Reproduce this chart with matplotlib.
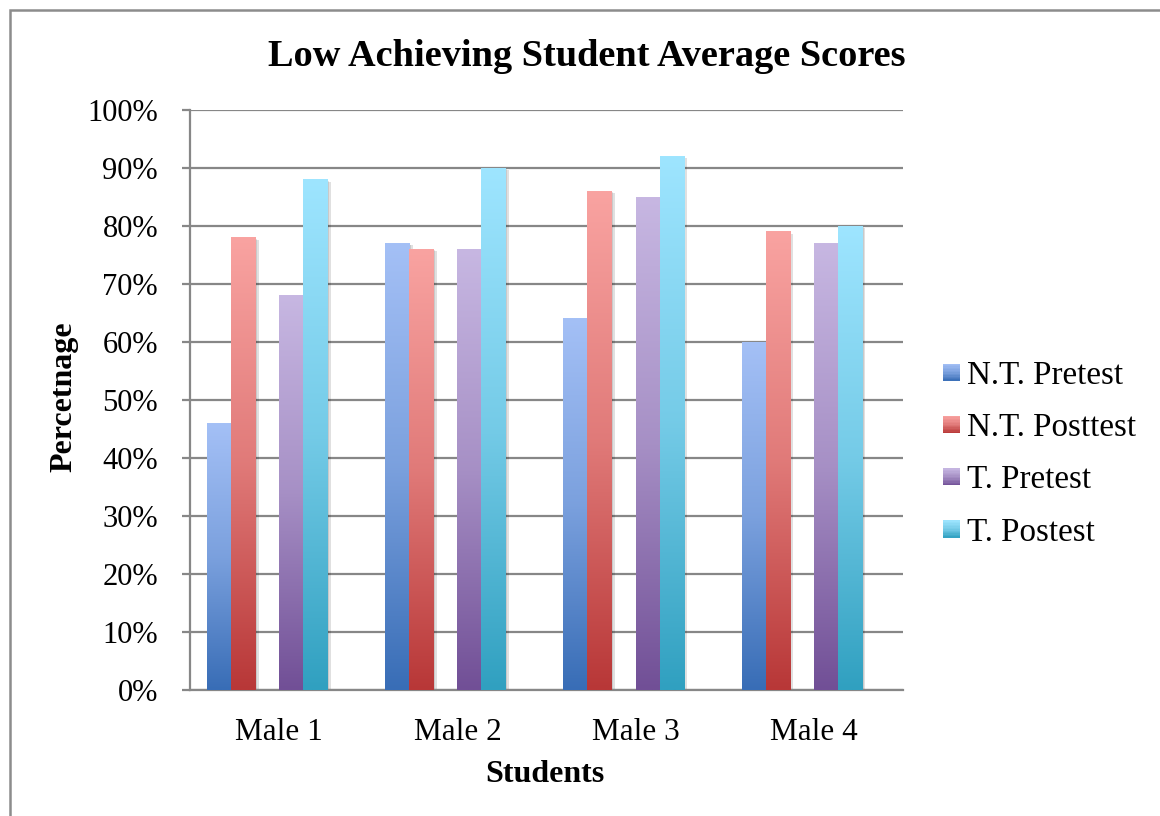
import numpy as np
import matplotlib
matplotlib.use("Agg")
import matplotlib.pyplot as plt
import matplotlib.patches as mpatches
import matplotlib.patheffects as pe
from matplotlib.colors import LinearSegmentedColormap, to_rgb
from matplotlib.legend_handler import HandlerBase

plt.rcParams['font.family'] = ['Liberation Serif', 'DejaVu Serif']

# data (percent)
students = ["Male 1", "Male 2", "Male 3", "Male 4"]
series_names = ["N.T. Pretest", "N.T. Posttest", "T. Pretest", "T. Postest"]
nt_pre = [46, 77, 64, 60]
nt_post = [78, 76, 86, 79]
t_pre = [68, 76, 85, 77]
t_post = [88, 90, 92, 80]
yticks = [0, 10, 20, 30, 40, 50, 60, 70, 80, 90, 100]

# gradient colours (bottom, top) per series
grad_colors = [("#386db6", "#a4c0f6"),
               ("#b83737", "#f9a3a1"),
               ("#714f96", "#c7b7e2"),
               ("#30a0c0", "#9ee5ff")]
# excel leaves an empty slot between the groups of series
slots = [0, 1, 3, 4]
n_slots = 6


def make_cmap(bottom, top):
    b = np.array(to_rgb(bottom))
    t = np.array(to_rgb(top))
    mid = b + (t - b) * 0.62
    return LinearSegmentedColormap.from_list("g", [(0, b), (0.5, mid), (1, t)])


class GradHandler(HandlerBase):
    def __init__(self, cmap):
        super().__init__()
        self.cmap = cmap

    def create_artists(self, legend, orig_handle, xdescent, ydescent,
                       width, height, fontsize, trans):
        side = 0.52 * fontsize
        x0 = -xdescent + width - side
        y0 = -ydescent + (height - side) / 2
        n = 12
        arts = []
        for i in range(n):
            r = mpatches.Rectangle((x0, y0 + side * i / n), side, side / n + 0.05,
                                   facecolor=self.cmap((i + 0.5) / n),
                                   edgecolor="none", transform=trans)
            arts.append(r)
        return arts


fig = plt.figure(figsize=(11.6, 8.16), dpi=100)
ax = fig.add_axes([190 / 1160, 1 - 690 / 816, 713 / 1160, 580 / 816])

x = np.arange(len(students))
w = 0.135
all_vals = [nt_pre, nt_post, t_pre, t_post]
handles = []
hmap = {}
for vals, slot, (c0, c1), name in zip(all_vals, slots, grad_colors, series_names):
    cmap = make_cmap(c0, c1)
    offs = (slot - (n_slots - 1) / 2) * w
    bars = ax.bar(x + offs, vals, w, color="white", zorder=2,
                  path_effects=[pe.SimplePatchShadow(offset=(2.5, -1.5), shadow_rgbFace="k", alpha=0.12),
                                pe.SimplePatchShadow(offset=(1.2, -0.8), shadow_rgbFace="k", alpha=0.1),
                                pe.Normal()])
    grad = np.linspace(0, 1, 256).reshape(-1, 1)
    for b in bars:
        ax.imshow(grad, extent=[b.get_x(), b.get_x() + b.get_width(), 0, b.get_height()],
                  origin="lower", aspect="auto", cmap=cmap, zorder=3, interpolation="bilinear")
    h = mpatches.Patch(label=name)
    handles.append(h)
    hmap[h] = GradHandler(cmap)

ax.set_xlim(-0.5, len(students) - 0.5)
ax.set_ylim(0, 100)
ax.set_yticks(yticks)
ax.set_yticklabels([f"{v}%" for v in yticks])
ax.set_xticks(x)
ax.set_xticklabels(students)
ax.yaxis.grid(True, color="#878787", linewidth=1.6)
ax.set_axisbelow(True)
for s in ["top", "right"]:
    ax.spines[s].set_visible(False)
for s in ["left", "bottom"]:
    ax.spines[s].set_color("#878787")
    ax.spines[s].set_linewidth(1.6)
ax.tick_params(axis="y", length=6, width=1.6, color="#878787", labelsize=22, pad=17)
ax.tick_params(axis="x", length=0, labelsize=22.5, pad=20)

ax.set_xlabel("Students", fontsize=23, fontweight="bold")
ax.set_ylabel("Percetnage", fontsize=23, fontweight="bold")
ax.xaxis.set_label_coords(0.498, -0.121)
ax.yaxis.set_label_coords(-0.156, 0.505)

fig.text(587 / 1160, 1 - 56 / 816, "Low Achieving Student Average Scores",
         fontsize=27.6, fontweight="bold", ha="center", va="center")

ax.legend(handles=handles, handler_map=hmap, loc="center left",
          bbox_to_anchor=(942 / 1160, 1 - 454 / 816), bbox_transform=fig.transFigure,
          frameon=False, fontsize=23.8, handlelength=0.55, handletextpad=0.2,
          labelspacing=0.66, borderpad=0, borderaxespad=0)

# outer chart frame (only left and top edges fall inside the image)
fig.patches.append(mpatches.Rectangle((10 / 1160, -0.2), 1.5, 0.2 + 806 / 816,
                                      transform=fig.transFigure, fill=False,
                                      edgecolor="#8c8c8c", linewidth=1.8))

fig.savefig("out.png", dpi=100)
